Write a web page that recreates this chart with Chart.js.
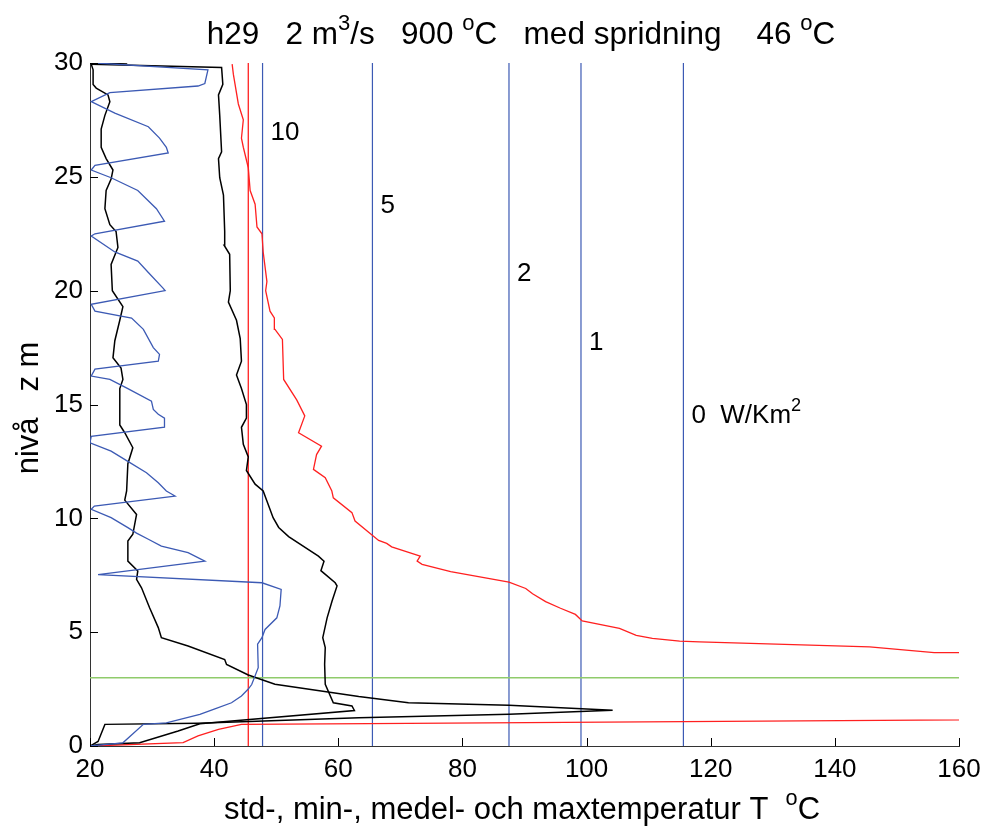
<!DOCTYPE html>
<html>
<head>
<meta charset="utf-8">
<script src="https://cdn.jsdelivr.net/npm/chart.js@4.4.1/dist/chart.umd.min.js"></script>
<style>
  html, body { margin: 0; padding: 0; background: #fff; }
  canvas { display: block; }
</style>
</head>
<body>
<canvas id="profileChart" width="984" height="834"></canvas>
<script>
//////// Profile data: [temperature T (°C), level z (m)] ////////
const stdProfile = [
    [20, 0], [25.3, 0.14], [28.6, 0.95], [32.3, 1.02], [37.7, 1.39], [39.9, 1.61], [42.8, 1.9], [44.4, 2.2],
    [45.5, 2.5], [46.05, 2.7], [47.1, 3.44], [47.0, 4.47], [47.7, 4.76], [48.2, 5.12], [50.1, 5.63], [50.6, 6.15],
    [50.8, 6.88], [47.7, 7.17], [21.3, 7.53], [38.5, 8.12], [35.8, 8.49], [31.5, 8.78], [29.4, 9.08], [27.5, 9.35],
    [26.1, 9.59], [23.4, 10.03], [20.2, 10.4], [20.7, 10.54], [33.7, 10.98], [32.3, 11.2], [31.0, 11.56], [29.1, 12.0],
    [26.1, 12.5], [23.4, 12.95], [20.0, 13.32], [20.2, 13.6], [32.0, 14.0], [32.0, 14.4], [31.0, 14.57], [30.2, 14.78],
    [29.9, 15.15], [26.1, 15.7], [23.2, 16.1], [20.2, 16.25], [20.8, 16.55], [31.0, 16.9], [31.2, 17.2], [30.2, 17.5],
    [28.6, 18.3], [26.7, 18.8], [20.8, 19.1], [20.2, 19.4], [32.1, 20.0], [31.8, 20.1], [29.4, 20.8], [27.7, 21.3],
    [24.0, 21.7], [20.2, 22.4], [20.8, 22.5], [32.0, 23.05], [30.7, 23.6], [27.7, 24.4], [23.4, 24.96], [20.2, 25.3],
    [20.8, 25.5], [32.6, 26.05], [32.3, 26.3], [31.2, 26.7], [29.4, 27.2], [24.0, 27.8], [20.2, 28.3], [23.2, 28.7],
    [37.4, 28.99], [38.5, 29.1], [39.0, 29.7], [21.0, 30]
]
const minProfile = [
    [20, 0], [21.3, 0.2], [22.4, 0.95], [37.4, 1.0], [63.3, 1.24], [87.5, 1.39], [104.2, 1.57], [87.5, 1.79],
    [71.3, 1.9], [63.3, 2.17], [49.8, 2.71], [45.5, 3.12], [42.0, 3.58], [41.7, 3.8], [35.8, 4.39], [31.5, 4.76],
    [31.0, 5.2], [29.6, 6.07], [28.3, 6.95], [27.5, 7.32], [27.7, 7.69], [26.1, 8.12], [26.1, 9.0], [26.9, 9.3],
    [27.5, 10.17], [25.6, 10.8], [25.9, 11.2], [26.1, 12.4], [26.9, 13.1], [25.6, 13.76], [24.8, 14.1], [24.8, 15.7],
    [25.3, 16.1], [25.0, 16.6], [23.7, 17.05], [24.0, 17.8], [24.8, 18.7], [25.3, 19.3], [23.6, 20.0], [23.4, 21.15],
    [24.5, 21.9], [24.2, 22.6], [23.2, 22.9], [22.4, 23.6], [22.6, 24.4], [23.4, 24.9], [23.7, 25.3], [22.6, 25.8],
    [21.8, 26.3], [21.8, 27.1], [22.4, 27.7], [23.2, 28.3], [22.9, 28.6], [21.0, 28.9], [20.5, 29.06], [20.5, 29.7],
    [20.2, 29.95], [26.0, 30]
]
const meanProfile = [
    [20, 0], [21.3, 0.07], [28.0, 0.14], [34.2, 0.66], [37.7, 0.98], [62.6, 1.56], [62.2, 1.76], [59.2, 1.9],
    [57.9, 2.71], [57.8, 3.59], [57.9, 4.32], [57.5, 4.76], [58.2, 5.63], [59.0, 6.37], [59.8, 7.03], [59.5, 7.17],
    [57.2, 7.7], [57.7, 8.12], [56.8, 8.34], [52.0, 9.2], [50.4, 9.6], [49.5, 10.03], [48.5, 10.76], [47.9, 11.2],
    [46.6, 11.5], [45.2, 12.1], [45.5, 12.7], [44.7, 13.25], [44.4, 14.0], [45.2, 14.4], [45.2, 15.0], [44.4, 15.7],
    [43.6, 16.3], [44.4, 16.9], [44.2, 17.9], [43.6, 18.7], [42.3, 19.5], [42.6, 20.0], [42.5, 21.6], [41.6, 22.0],
    [41.7, 22.6], [41.5, 24.2], [40.9, 24.96], [40.7, 25.8], [41.2, 26.1], [40.9, 27.7], [40.7, 28.6], [41.4, 29.06],
    [41.2, 29.8], [20.2, 29.95]
]
// the max profile runs off the axis (T > 160) between z = 1.1 and z = 4.1
const maxProfile = [
    [20.5, 0], [35.0, 0.15], [37.4, 0.44], [40.7, 0.73], [44.4, 0.95], [64.9, 0.98], [250, 1.3], [250, 4.05],
    [156, 4.1], [145.6, 4.35], [118.2, 4.57], [115.0, 4.61], [110.6, 4.73], [108.0, 4.86], [105.3, 5.17], [99.3, 5.49],
    [98.2, 5.78], [95.8, 6.05], [93.4, 6.34], [91.3, 6.69], [90.2, 6.92], [87.5, 7.2], [78.1, 7.66], [73.5, 7.98],
    [72.7, 8.12], [73.2, 8.34], [68.6, 8.75], [67.8, 8.9], [66.5, 9.03], [62.7, 9.88], [62.2, 10.25], [59.2, 10.9],
    [58.96, 11.2], [57.9, 11.78], [56.0, 12.15], [56.5, 12.8], [57.3, 13.17], [53.6, 13.76], [54.6, 14.5], [53.3, 15.2],
    [51.2, 16.1], [51.0, 17.86], [49.8, 18.3], [49.7, 18.8], [49.0, 19.1], [48.3, 20.0], [48.5, 20.4], [47.9, 21.7],
    [47.7, 22.5], [46.9, 22.8], [46.6, 23.8], [45.8, 24.4], [45.5, 25.4], [44.7, 26.3], [44.4, 26.7], [44.7, 27.5],
    [43.9, 28.2], [43.1, 29.5], [42.9, 29.95]
]

const ambientT = 45.5                               // 46 °C ambient line
const fluxLineT = [47.8, 65.5, 87.5, 99.1, 115.6]   // surface temperature for each heat flux
const fluxValues = ["10", "5", "2", "1", "0"]
const fluxLabelZ = [27.0, 23.8, 20.8, 17.8, 14.6]
const markerZ = 3                                   // green level line
const xTicks = { min: 20, max: 160, step: 20 }
const yTicks = { min: 0, max: 30, step: 5 }

const FONT = '"Liberation Sans", Arial, Helvetica, sans-serif'
const BLUE = "#3c5ab4"
const RED = "#ff2020"
const GREEN = "#8fcb6b"

let toPoints = (arr) => arr.map(p => ({ x: p[0], y: p[1] }))

let lineSet = (data, color, width) => ({
    data: data,
    showLine: true,
    borderColor: color,
    borderWidth: width,
    pointRadius: 0,
    fill: false,
    tension: 0
})

let datasets = [
    lineSet(toPoints(stdProfile), BLUE, 1.3),
    lineSet(toPoints(minProfile), "#000", 1.5),
    lineSet(toPoints(meanProfile), "#000", 1.5),
    lineSet(toPoints(maxProfile), RED, 1.3),
    lineSet([{ x: xTicks.min, y: markerZ }, { x: xTicks.max, y: markerZ }], GREEN, 1.5),
    lineSet([{ x: ambientT, y: yTicks.min }, { x: ambientT, y: yTicks.max }], RED, 1.3)
]
fluxLineT.forEach(t => {
    datasets.push(lineSet([{ x: t, y: yTicks.min }, { x: t, y: yTicks.max }], BLUE, 1.2))
})

// text with raised pieces (m^3, ^oC, Km^2)
let drawRich = (ctx, parts, x, y, size, align) => {
    let total = 0
    parts.forEach(p => {
        ctx.font = (p.sup ? size * 0.7 : size) + "px " + FONT
        p.w = ctx.measureText(p.t).width
        total += p.w
    })
    let cx = align === "center" ? x - total / 2 : x
    parts.forEach(p => {
        ctx.font = (p.sup ? size * 0.7 : size) + "px " + FONT
        ctx.fillText(p.t, cx, p.sup ? y - size * 0.45 : y)
        cx += p.w
    })
}

const annotations = {
    id: "annotations",
    afterDraw(chart) {
        const ctx = chart.ctx
        const xs = chart.scales.x
        const ys = chart.scales.y
        const area = chart.chartArea
        ctx.save()

        // inward tick marks
        ctx.strokeStyle = "#000"
        ctx.lineWidth = 1
        ctx.beginPath()
        xs.ticks.forEach(t => {
            const px = Math.round(xs.getPixelForValue(t.value)) + 0.5
            ctx.moveTo(px, area.bottom)
            ctx.lineTo(px, area.bottom - 8)
        })
        ys.ticks.forEach(t => {
            const py = Math.round(ys.getPixelForValue(t.value)) + 0.5
            ctx.moveTo(area.left, py)
            ctx.lineTo(area.left + 8, py)
        })
        ctx.stroke()

        ctx.fillStyle = "#000"
        ctx.textAlign = "left"
        ctx.textBaseline = "alphabetic"

        // heat flux labels next to their lines
        fluxValues.forEach((v, i) => {
            const px = xs.getPixelForValue(fluxLineT[i]) + 8
            const py = ys.getPixelForValue(fluxLabelZ[i]) + 9
            if (i === fluxValues.length - 1) {
                drawRich(ctx, [{ t: v + "  W/Km" }, { t: "2", sup: true }], px, py, 26, "left")
            } else {
                drawRich(ctx, [{ t: v }], px, py, 26, "left")
            }
        })

        // title
        drawRich(ctx, [
            { t: "h29   2 m" }, { t: "3", sup: true }, { t: "/s   900 " }, { t: "o", sup: true },
            { t: "C   med spridning    46 " }, { t: "o", sup: true }, { t: "C" }
        ], 521, 44, 31.5, "center")

        // x axis title
        drawRich(ctx, [
            { t: "std-, min-, medel- och maxtemperatur T  " }, { t: "o", sup: true }, { t: "C" }
        ], 522, 819, 31, "center")

        // y axis title
        ctx.translate(38, 408)
        ctx.rotate(-Math.PI / 2)
        drawRich(ctx, [{ t: "nivå   z m" }], 0, 0, 31, "center")

        ctx.restore()
    }
}

let ctx = document.getElementById("profileChart").getContext("2d")
const profileChart = new Chart(ctx, {
    type: "scatter",
    data: { datasets: datasets },
    options: {
        responsive: false,
        animation: false,
        events: [],
        layout: { padding: { top: 63, right: 25, left: 0, bottom: 0 } },
        plugins: {
            legend: { display: false },
            tooltip: { enabled: false },
            title: { display: false }
        },
        scales: {
            x: {
                type: "linear",
                min: xTicks.min,
                max: xTicks.max,
                afterFit: (s) => { s.height = 88; s.paddingLeft = 0; s.paddingRight = 0 },
                grid: { display: false, drawTicks: false },
                border: { display: true, color: "#333", width: 1 },
                ticks: { stepSize: xTicks.step, color: "#000", padding: 8, font: { family: FONT, size: 26 } }
            },
            y: {
                type: "linear",
                min: yTicks.min,
                max: yTicks.max,
                afterFit: (s) => { s.width = 90 },
                grid: { display: false, drawTicks: false },
                border: { display: true, color: "#333", width: 1 },
                ticks: { stepSize: yTicks.step, color: "#000", padding: 7, font: { family: FONT, size: 26 } }
            }
        }
    },
    plugins: [annotations]
})
</script>
</body>
</html>
